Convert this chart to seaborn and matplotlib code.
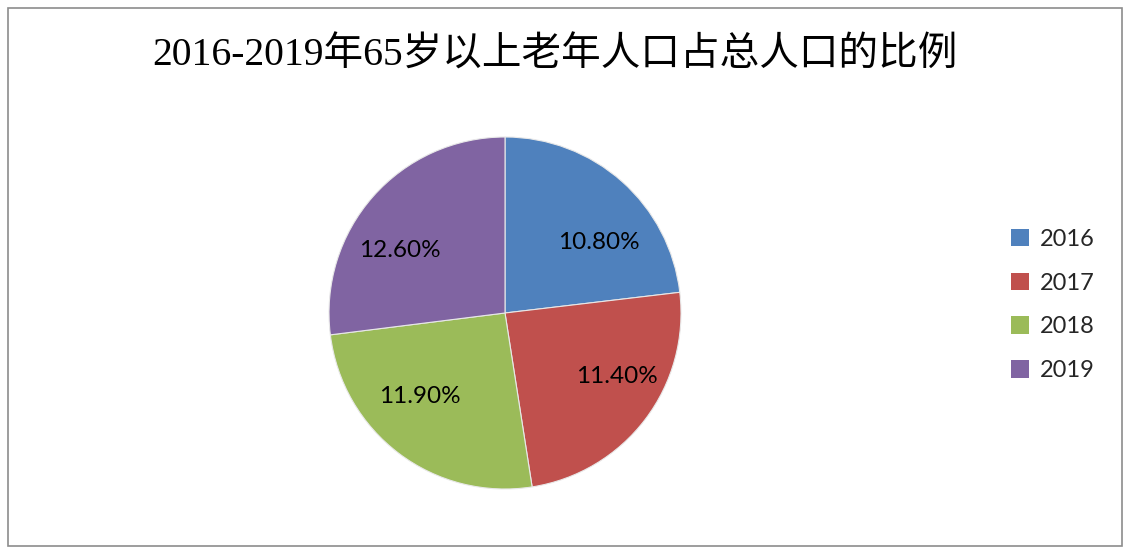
import matplotlib
matplotlib.use("Agg")
import matplotlib.pyplot as plt
import matplotlib.patches as mpatches
import seaborn as sns

# data
years = ["2016", "2017", "2018", "2019"]
ratios = [10.8, 11.4, 11.9, 12.6]
colors = ["#4F81BD", "#C0504D", "#9BBB59", "#8064A2"]
title = "2016-2019年65岁以上老年人口占总人口的比例"

sns.set_theme(style="white")
plt.rcParams["font.family"] = ["Noto Sans CJK SC", "DejaVu Sans"]

fig = plt.figure(figsize=(11.33, 5.54), dpi=100)

# outer gray frame
fig.patches.append(mpatches.Rectangle((8 / 1133, 8 / 554), 1114 / 1133, 538 / 554,
                                      transform=fig.transFigure, fill=False,
                                      edgecolor="#8c8c8c", linewidth=1.2))

total = sum(ratios)
cx, cy, r = 505 / 1133, 1 - 313 / 554, 176
ax = fig.add_axes([cx - r / 1133, cy - r / 554, 2 * r / 1133, 2 * r / 554])
wedges, texts, autotexts = ax.pie(
    ratios, colors=colors, startangle=90, counterclock=False,
    autopct=lambda p: f"{p * total / 100:.2f}%", pctdistance=0.69,
    wedgeprops=dict(edgecolor="#e8e8e8", linewidth=0.8),
    textprops=dict(fontsize=17.5, family=["Lato", "DejaVu Sans"], color="black"))
# Excel-like label placement: labels pulled toward the horizontal
for t in autotexts:
    x, y = t.get_position()
    t.set_position((x * 1.16, y * 0.82 - 0.02))
ax.set_xlim(-1, 1)
ax.set_ylim(-1, 1)
ax.set_aspect("equal")

fig.text(555 / 1133, 1 - 56 / 554, title, ha="center", va="center", fontsize=28.5,
         family=["Liberation Serif", "Noto Sans CJK SC"], color="black")

handles = [mpatches.Patch(facecolor=c, edgecolor="none") for c in colors]
fig.legend(handles, years, loc="center left", bbox_to_anchor=(990 / 1133, 1 - 305 / 554),
           frameon=False, prop=dict(family=["Lato", "DejaVu Sans"], size=17),
           handlelength=0.76, handleheight=0.76, handletextpad=0.47, labelspacing=0.97)

fig.savefig("out.png", dpi=100)
